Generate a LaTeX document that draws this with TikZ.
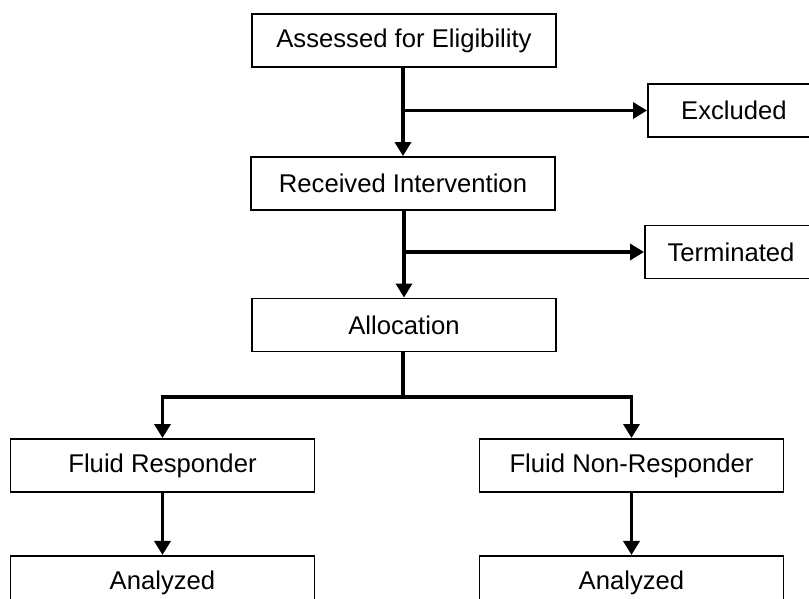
\documentclass[tikz,border=0pt]{standalone}
\usepackage{fontspec}
\setmainfont{Liberation Sans}
\usetikzlibrary{arrows.meta,positioning,calc}
\definecolor{linec}{HTML}{000000}
\definecolor{textc}{HTML}{000000}
\tikzset{
  >={Triangle[length=2.8mm,width=3.2mm]},
  stage/.style={draw=linec,line width=1.1pt,fill=white,minimum width=60.8mm,minimum height=10.6mm,inner sep=0pt,font=\fontsize{14.6}{17}\selectfont,text=textc},
  side/.style={stage,minimum width=34.4mm},
  ptr/.style={->,line width=2pt,draw=linec},
}

\begin{document}
\begin{tikzpicture}
  \useasboundingbox (0,0) rectangle (16.18,-11.98);
  \clip (0,0) rectangle (16.18,-11.98);
  % main column
  \node[stage] (assess) at (8.08,-0.81) {Assessed for Eligibility};
  \node[stage] (recv) at (8.06,-3.67) {Received Intervention};
  \node[stage] (alloc) at (8.08,-6.50) {Allocation};
  % side boxes, cut by the right edge
  \node[side] (excl) at (14.68,-2.21) {Excluded};
  \node[side] (term) at (14.62,-5.04) {Terminated};
  % two arms
  \node[stage] (resp) at (3.25,-9.31) {Fluid Responder};
  \node[stage] (nonresp) at (12.63,-9.31) {Fluid Non-Responder};
  \node[stage,below=12.4mm of resp] (anaL) {Analyzed};
  \node[stage,below=12.4mm of nonresp] (anaR) {Analyzed};
  \coordinate (split) at (8.06,-7.94);
  \draw[ptr] (assess.south -| recv.north) -- (recv.north);
  \draw[ptr] (recv.north |- excl.west) -- (excl.west);
  \draw[ptr] (recv.south -| alloc.north) -- (alloc.north);
  \draw[ptr] (alloc.north |- term.west) -- (term.west);
  \draw[ptr] (alloc.south -| split) -- (split) -| (resp.north);
  \draw[ptr] (split) -| (nonresp.north);
  \draw[ptr] (resp) -- (anaL);
  \draw[ptr] (nonresp) -- (anaR);
\end{tikzpicture}
\end{document}
